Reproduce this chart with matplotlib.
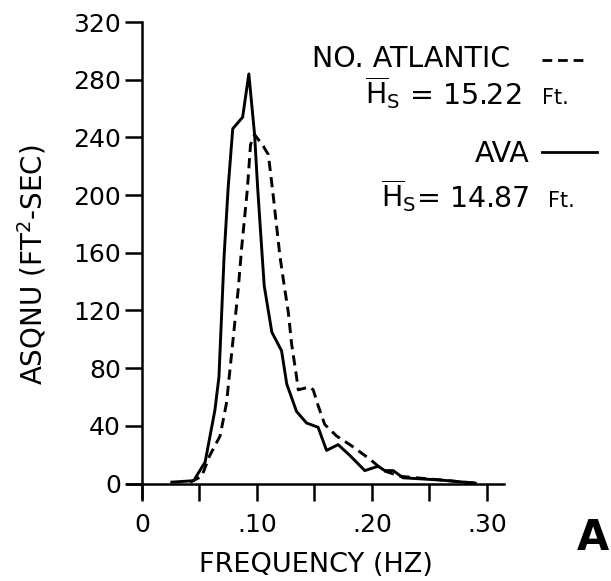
import matplotlib
matplotlib.use("Agg")
import matplotlib.pyplot as plt
from matplotlib.lines import Line2D

# spectra: frequency (Hz) vs ASQNU (ft^2-sec)
ava_freq = [0.026, 0.045, 0.055, 0.0635, 0.067, 0.0715, 0.075, 0.079, 0.0876,
            0.093, 0.098, 0.1006, 0.1046, 0.1064, 0.113, 0.1215, 0.126, 0.1345,
            0.1432, 0.1533, 0.1606, 0.1707, 0.1809, 0.1939, 0.2055, 0.2113,
            0.2186, 0.2272, 0.259, 0.29]
ava_asqnu = [1, 2, 15, 51, 74, 158, 205, 246, 254,
             284, 242, 206, 158, 137, 105, 92, 69, 50,
             42, 39, 23, 27, 19.5, 9, 12, 9,
             9, 4, 2.5, 0.3]

atl_freq = [0.042, 0.052, 0.059, 0.068, 0.0736, 0.078, 0.0838, 0.0867, 0.0916,
            0.0945, 0.098, 0.1055, 0.11, 0.1143, 0.12, 0.1229, 0.1273, 0.1302,
            0.1345, 0.136, 0.146, 0.149, 0.1533, 0.159, 0.1693, 0.1809, 0.1939,
            0.1997, 0.21, 0.225, 0.26, 0.29]
atl_asqnu = [1, 5, 19.5, 33, 56, 90, 135, 163, 203,
             235, 242, 234, 228, 199, 158, 142, 119, 97,
             74, 65, 67, 65, 54, 41, 33, 27, 19.5,
             16, 9, 5, 2.5, 0.3]

xticks = [0, 0.05, 0.10, 0.15, 0.20, 0.25, 0.30]
xticklabels = ["0", "", ".10", "", ".20", "", ".30"]
yticks = [0, 40, 80, 120, 160, 200, 240, 280, 320]

W, H = 611, 581
fig = plt.figure(figsize=(W / 100, H / 100), dpi=100)

# axes placed in pixel terms, then converted to figure fractions
left, bottom, right, top = 127, 498, 504, 22
ax = fig.add_axes([left / W, 1 - bottom / H, (right - left) / W, (bottom - top) / H])

ax.plot(ava_freq, ava_asqnu, color="black", lw=2.1)
ax.plot(atl_freq, atl_asqnu, color="black", lw=2.1, dashes=(3.5, 2.1))

ax.set_xlim(-0.013, 0.315)
ax.set_ylim(-10, 320)
ax.spines["left"].set_position(("data", 0))
ax.spines["bottom"].set_position(("data", 0))
ax.spines["top"].set_visible(False)
ax.spines["right"].set_visible(False)
for s in ("left", "bottom"):
    ax.spines[s].set_linewidth(1.8)

ax.set_xticks(xticks)
ax.set_xticklabels(xticklabels)
ax.set_yticks(yticks)
ax.tick_params(axis="both", direction="out", length=12, width=1.8, labelsize=18)
ax.tick_params(axis="x", pad=9)
ax.tick_params(axis="y", pad=3)

ax.set_xlabel("FREQUENCY (HZ)", fontsize=19.5, va="center")
ax.xaxis.set_label_coords(0.5, -0.141)
ax.set_ylabel("ASQNU (FT$^2$-SEC)", fontsize=20, va="center")
ax.yaxis.set_label_coords(-0.252, 0.489)


def fx(px):
    return px / W


def fy(py):
    return 1 - py / H


# key, drawn by hand the way the original lettering sits
fig.text(fx(510), fy(67), "NO. ATLANTIC", fontsize=20.5, ha="right", va="baseline")
fig.add_artist(Line2D([fx(542), fx(587)], [fy(60), fy(60)], color="black",
                      lw=2.0, dashes=(3.5, 2.1)))
fig.text(fx(522), fy(104), r"$\overline{\mathrm{H}}_{\mathrm{S}}$ = 15.22",
         fontsize=20.5, ha="right", va="baseline")
fig.text(fx(542), fy(104), "Ft.", fontsize=15, ha="left", va="baseline")

fig.text(fx(530), fy(162), "AVA", fontsize=20.5, ha="right", va="baseline")
fig.add_artist(Line2D([fx(542), fx(597)], [fy(152), fy(152)], color="black", lw=2.0))
fig.text(fx(530), fy(207), r"$\overline{\mathrm{H}}_{\mathrm{S}}$= 14.87",
         fontsize=20.5, ha="right", va="baseline")
fig.text(fx(548), fy(207), "Ft.", fontsize=15, ha="left", va="baseline")

fig.text(fx(609), fy(550), "A", fontsize=30, fontweight="bold", ha="right", va="baseline")

fig.savefig("out.png", dpi=100)
